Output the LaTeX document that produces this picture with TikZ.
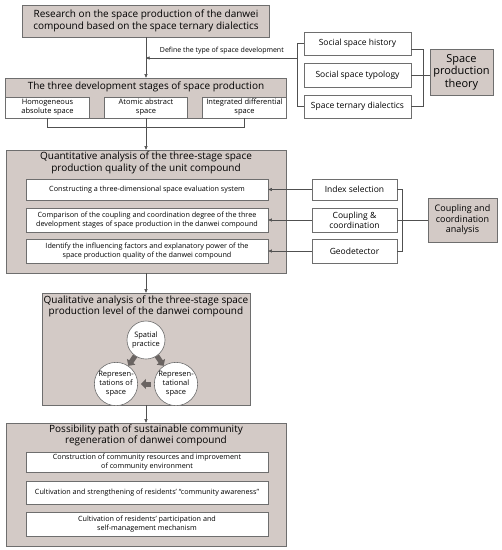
\documentclass[tikz,border=0pt]{standalone}
\usepackage{fontspec}
\setmainfont{Open Sans}
\usetikzlibrary{arrows.meta, positioning, calc}
\definecolor{panel}{HTML}{D3CAC6}
\definecolor{edge}{HTML}{6E6E6E}
\definecolor{wire}{HTML}{505050}
\definecolor{fat}{HTML}{6A6462}

\begin{document}
\begin{tikzpicture}[x=1pt, y=-1pt,
    panelbox/.style={draw=edge, fill=panel, line width=0.6pt, inner sep=0pt},
    whitebox/.style={draw=edge, fill=white, line width=0.6pt, align=center,
                     inner sep=1pt, font=\fontsize{7.2}{8.6}\selectfont},
    sidebox/.style={draw=edge, fill=white, line width=0.6pt, align=center,
                    inner sep=1pt, font=\fontsize{8.5}{10}\selectfont},
    title/.style={align=center, inner sep=0pt, font=\fontsize{10}{11.5}\selectfont},
    circ/.style={circle, draw=edge, fill=white, line width=0.6pt, inner sep=0pt,
                 minimum size=38pt, align=center, font=\fontsize{7.5}{9}\selectfont},
    link/.style={draw=wire, line width=0.5pt},
    arr/.style={link, -{Triangle[length=3.5pt, width=3pt]}},
    fatarr/.style={draw=fat, line width=5pt, -{Triangle[length=5pt, width=10pt]}}
  ]
  \useasboundingbox (0,0) rectangle (502,550);

  % research theme and theory
  \node[panelbox, title, minimum width=247pt, minimum height=32pt] (research) at (146,21)
    {Research on the space production of the danwei\\compound based on the space ternary dialectics};

  \node[sidebox, minimum width=107pt, minimum height=23pt] (hist) at (357.5,43.5) {Social space history};
  \node[sidebox, minimum width=107pt, minimum height=24pt] (typo) at (357.5,75) {Social space typology};
  \node[sidebox, minimum width=107pt, minimum height=23pt] (dial) at (357.5,106.5) {Space ternary dialectics};
  \node[panelbox, align=center, font=\fontsize{11}{12.5}\selectfont,
        minimum width=63pt, minimum height=46pt] (theory) at (461.5,72) {Space\\production\\theory};

  \draw[link] ($(hist.east)+(0,6)$) -- ++(12,0) |- (dial.east);
  \draw[link] (typo.east) -- (typo.east -| theory.west);

  % three stages
  \node[panelbox, minimum width=281pt, minimum height=40pt] (stages) at (146,98) {};
  \node[title] (stagestitle) at (146,87) {The three development stages of space production};
  \node[whitebox, font=\fontsize{7.5}{9}\selectfont, minimum width=84pt, minimum height=21pt] (homo) at (47.5,107.5)
    {Homogeneous\\absolute space};
  \node[whitebox, font=\fontsize{7.5}{9}\selectfont, minimum width=83pt, minimum height=21pt] (atom) at (146,107.5)
    {Atomic abstract\\space};
  \node[whitebox, font=\fontsize{7.5}{9}\selectfont, minimum width=84pt, minimum height=21pt] (integ) at (244.5,107.5)
    {Integrated differential\\space};

  \coordinate (define) at (146,58);
  \draw[arr] (research.south) -- (stages.north);
  \draw[link] (hist.west) -- ++(-6,0) coordinate (lb) |- (dial.west);
  \draw[arr] (lb |- define) -- (define)
    node[midway, above=0.5pt, font=\fontsize{7}{8}\selectfont] {Define the type of space development};

  % quantitative analysis
  \node[panelbox, minimum width=280pt, minimum height=123pt] (quant) at (146,211.5) {};
  \node[title] at (146,163) {Quantitative analysis of the three-stage space\\production quality of the unit compound};
  \node[whitebox, minimum width=242pt, minimum height=21pt] (construct) at (147,189.5)
    {Constructing a three-dimensional space evaluation system};
  \node[whitebox, minimum width=242pt, minimum height=24pt] (compare) at (147,220)
    {Comparison of the coupling and coordination degree of the three\\development stages of space production in the danwei compound};
  \node[whitebox, minimum width=242pt, minimum height=24pt] (identify) at (147,251)
    {Identify the influencing factors and explanatory power of the\\space production quality of the danwei compound};

  \draw[link] (homo.south) -- ++(0,9) -| (integ.south);
  \draw[arr] (atom.south) -- (quant.north);

  \node[sidebox, minimum width=85pt, minimum height=21pt] (index) at (354.5,189.5) {Index selection};
  \node[sidebox, minimum width=85pt, minimum height=24pt] (coupling) at (354.5,220) {Coupling \&\\coordination};
  \node[sidebox, minimum width=85pt, minimum height=24pt] (geo) at (354.5,251) {Geodetector};
  \node[panelbox, align=center, font=\fontsize{9}{10.5}\selectfont,
        minimum width=69pt, minimum height=44pt] (analysis) at (462.5,220) {Coupling and\\coordination\\analysis};

  \draw[arr] (index.west) -- (construct.east);
  \draw[arr] (coupling.west) -- (compare.east);
  \draw[arr] (geo.west) -- (identify.east);
  \draw[link] (index.east) -- ++(5,0) |- (geo.east);
  \draw[link] (coupling.east) -- (analysis.west);

  % qualitative analysis
  \node[panelbox, minimum width=208pt, minimum height=112pt] (qual) at (146,349) {};
  \node[title] at (146,306.5) {Qualitative analysis of the three-stage space\\production level of the danwei compound};
  \node[circ] (spatial) at (146,340) {Spatial\\practice};
  \node[circ, minimum size=39pt] (reprs) at (116,384) {Represen-\\tations of\\space};
  \node[circ, minimum size=39pt] (reprl) at (176,384) {Represen-\\tational\\space};

  \draw[fatarr] (spatial) -- (reprs);
  \draw[fatarr] (spatial) -- (reprl);
  \draw[fatarr, shorten <=3pt, shorten >=3pt] (reprl) -- (reprs);

  \draw[arr] (quant.south) -- (qual.north);

  % regeneration path
  \node[panelbox, minimum width=280pt, minimum height=123pt] (path) at (146,484.5) {};
  \node[title] at (146,435.5) {Possibility path of sustainable community\\regeneration of danwei compound};
  \node[whitebox, minimum width=242pt, minimum height=20pt] (resources) at (147,462)
    {Construction of community resources and improvement\\of community environment};
  \node[whitebox, minimum width=242pt, minimum height=23pt] (awareness) at (147,492.5)
    {Cultivation and strengthening of residents’ “community awareness”};
  \node[whitebox, minimum width=242pt, minimum height=24pt] (participation) at (147,524)
    {Cultivation of residents’ participation and\\self-management mechanism};

  \draw[arr] (qual.south) -- (path.north);
\end{tikzpicture}
\end{document}
